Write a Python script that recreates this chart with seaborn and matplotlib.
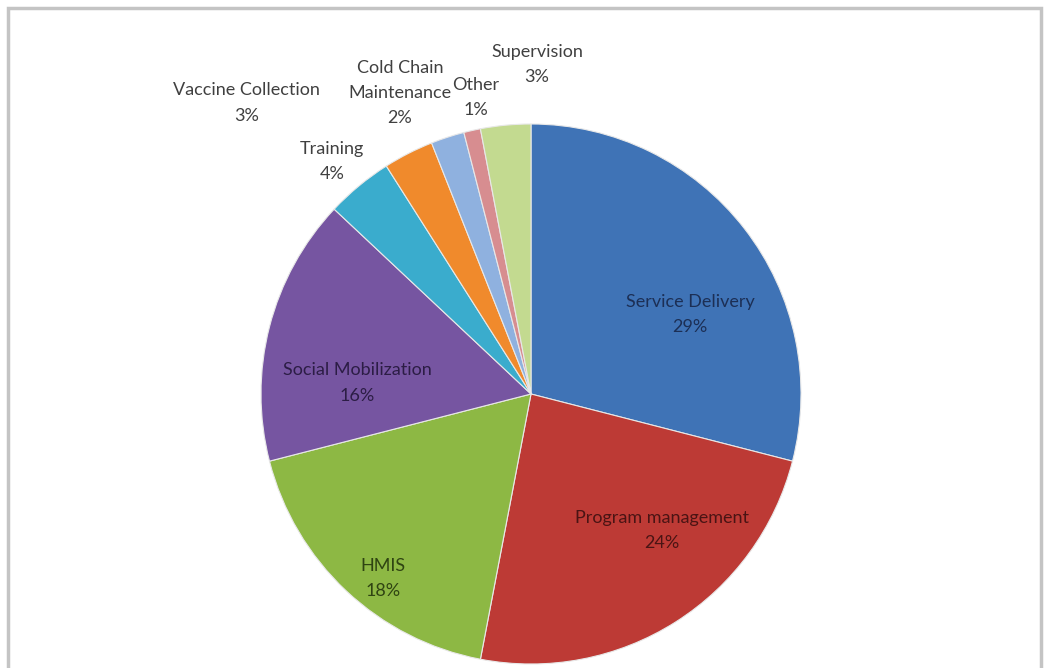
import matplotlib
matplotlib.use("Agg")
import matplotlib.pyplot as plt
import seaborn as sns
from matplotlib.patches import Rectangle

# data
categories = ["Service Delivery", "Program management", "HMIS", "Social Mobilization",
              "Training", "Vaccine Collection", "Cold Chain\nMaintenance", "Other", "Supervision"]
shares = [29, 24, 18, 16, 4, 3, 2, 1, 3]

# styling
colors = ["#3f73b6", "#bd3a35", "#8db844", "#7655a1", "#3aaccd",
          "#f08a2c", "#8fb1df", "#d78d90", "#c3da90"]
text_colors = ["#1c2f55", "#4a1414", "#2f4412", "#2c1d45", "#404040",
               "#404040", "#404040", "#404040", "#404040"]
# label centres (pie radius units), hand-placed like the original
label_pos = [(0.593, 0.295), (0.489, -0.511), (-0.552, -0.687), (-0.649, 0.041),
             (-0.743, 0.869), (-1.060, 1.086), (-0.489, 1.123), (-0.205, 1.108),
             (0.022, 1.231)]

sns.set_style("white")
plt.rcParams["font.family"] = ["Lato", "DejaVu Sans"]

W, H = 1045, 668
cx, cy, r = 531, 394, 270  # pixel centre / radius of pie

fig = plt.figure(figsize=(W / 100, H / 100), dpi=100)
ax = fig.add_axes([0, 0, 1, 1])

wedges, _ = ax.pie(shares, colors=colors, startangle=90, counterclock=False,
                   radius=1, wedgeprops=dict(edgecolor="#e8e8e8", linewidth=0.8))

ax.set_aspect("auto")
ax.set_xlim(-cx / r, (W - cx) / r)
ax.set_ylim(-(H - cy) / r, cy / r)
ax.axis("off")

for name, val, pos, tc in zip(categories, shares, label_pos, text_colors):
    ax.text(pos[0] * 268 / r, pos[1] * 268 / r, f"{name}\n{val}%", ha="center", va="center",
            multialignment="center", fontsize=13, color=tc, linespacing=1.7)

# chart frame
fig.patches.append(Rectangle((8 / W, -0.05), (W - 12) / W, 1.05 - 8 / H,
                             transform=fig.transFigure, fill=False,
                             edgecolor="#c4c4c4", linewidth=2.5))

fig.savefig("out.png", dpi=100, facecolor="white")
